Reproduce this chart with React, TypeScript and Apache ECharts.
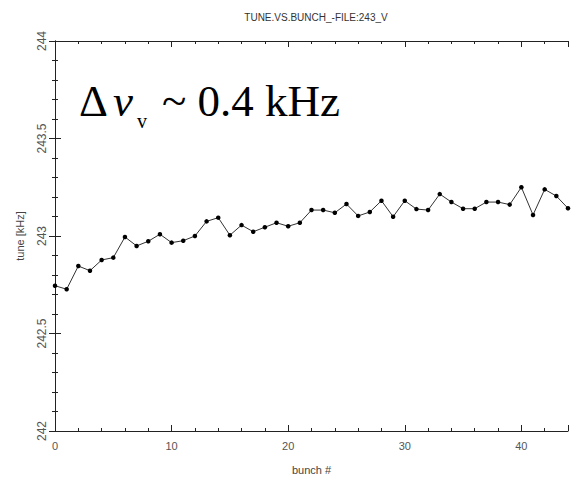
import React, { useEffect, useRef } from "react";
import * as echarts from "echarts";

const chartTitle = "TUNE.VS.BUNCH_-FILE:243_V";
const xAxisName = "bunch #";
const yAxisName = "tune [kHz]";

const bunches = [
  0, 1, 2, 3, 4, 5, 6, 7, 8, 9, 10, 11, 12, 13, 14, 15, 16, 17, 18, 19, 20, 21,
  22, 23, 24, 25, 26, 27, 28, 29, 30, 31, 32, 33, 34, 35, 36, 37, 38, 39, 40,
  41, 42, 43, 44,
];

const tunes = [
  242.745, 242.727, 242.846, 242.822, 242.877, 242.889, 242.995, 242.949,
  242.973, 243.009, 242.966, 242.976, 243.0, 243.075, 243.094, 243.004,
  243.056, 243.022, 243.045, 243.068, 243.05, 243.068, 243.133, 243.133,
  243.119, 243.164, 243.103, 243.123, 243.181, 243.099, 243.181, 243.138,
  243.133, 243.215, 243.174, 243.14, 243.14, 243.174, 243.174, 243.161,
  243.25, 243.108, 243.239, 243.205, 243.142,
];

const xRange = { min: 0, max: 44, interval: 10 };
const yRange = { min: 242, max: 244, interval: 0.5 };

export default function App() {
  const ref = useRef<HTMLDivElement>(null);

  useEffect(() => {
    document.body.style.margin = "0";
    if (!ref.current) return;
    const chart = echarts.init(ref.current, undefined, { renderer: "svg" });
    const axisColor = "#222";
    const labelFont = "Liberation Sans";
    const tickCommon = {
      axisLine: { show: true, lineStyle: { color: axisColor, width: 1 } },
      axisTick: { show: true, inside: true, length: 6, lineStyle: { color: axisColor, width: 1 } },
      minorTick: { show: true, splitNumber: 5, length: 3, lineStyle: { color: axisColor, width: 1 } },
      splitLine: { show: false },
      minorSplitLine: { show: false },
    };
    const data = bunches.map((b, i) => [b, tunes[i]]);
    chart.setOption({
      animation: false,
      backgroundColor: "#ffffff",
      title: {
        text: chartTitle,
        left: 311,
        textAlign: "center",
        top: 7,
        textStyle: { fontSize: 10, fontWeight: "normal", fontFamily: labelFont, color: "#333" },
      },
      grid: { left: 55, right: 7, top: 41, bottom: 51 },
      xAxis: [
        {
          type: "value",
          position: "bottom",
          ...xRange,
          ...tickCommon,
          name: xAxisName,
          nameLocation: "middle",
          nameGap: 33,
          nameTextStyle: { fontSize: 11, fontFamily: labelFont, color: "#444" },
          axisLabel: {
            fontSize: 11,
            fontFamily: labelFont,
            color: "#555",
            margin: 9,
            showMaxLabel: false,
          },
        },
        {
          type: "value",
          position: "top",
          ...xRange,
          ...tickCommon,
          axisLabel: { show: false },
        },
      ],
      yAxis: [
        {
          type: "value",
          position: "left",
          ...yRange,
          ...tickCommon,
          name: yAxisName,
          nameLocation: "middle",
          nameGap: 30,
          nameRotate: 90,
          nameTextStyle: { fontSize: 11, fontFamily: labelFont, color: "#444" },
          axisLabel: {
            rotate: 90,
            fontSize: 12,
            fontFamily: labelFont,
            color: "#555",
            margin: 7,
            formatter: (v: number) => String(v),
          },
        },
        {
          type: "value",
          position: "right",
          ...yRange,
          ...tickCommon,
          axisLabel: { show: false },
        },
      ],
      graphic: [
        {
          type: "text",
          style: {
            x: 79,
            y: 101,
            text: "Δ",
            font: "45px 'Liberation Serif'",
            fill: "#000",
            verticalAlign: "middle",
          },
        },
        {
          type: "text",
          style: {
            x: 113,
            y: 101,
            text: "ν",
            font: "italic 45px 'Liberation Serif'",
            fill: "#000",
            verticalAlign: "middle",
          },
        },
        {
          type: "text",
          style: {
            x: 137,
            y: 121,
            text: "v",
            font: "20px 'Liberation Serif'",
            fill: "#000",
            verticalAlign: "middle",
          },
        },
        {
          type: "text",
          style: {
            x: 162,
            y: 101,
            text: "~ 0.4 kHz",
            font: "45px 'Liberation Serif'",
            fill: "#000",
            verticalAlign: "middle",
          },
        },
      ],
      series: [
        {
          type: "line",
          data,
          symbol: "circle",
          symbolSize: 4.5,
          itemStyle: { color: "#000" },
          lineStyle: { color: "#333", width: 1 },
        },
      ],
    });
    return () => chart.dispose();
  }, []);

  return <div ref={ref} style={{ width: 575, height: 482 }} />;
}
